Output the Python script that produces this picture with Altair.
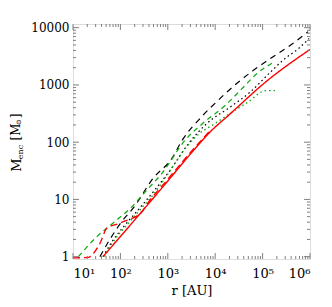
import altair as alt
import pandas as pd

# ---- data (r in AU, M_enc in solar masses) ----
red_solid_r = [43, 363, 1000, 3000, 7760, 20400, 112000, 1000000]
red_solid_m = [1.0, 7.8, 21, 62, 150, 309, 1100, 4170]

red_dash_r = [10, 21, 29, 37, 52, 85, 126, 282, 363, 1000, 3000, 7760]
red_dash_m = [0.95, 0.97, 1.23, 1.7, 3.16, 3.7, 4.2, 6.0, 8.2, 22.5, 66, 158]

green_dash_r = [13, 32, 85, 174, 331, 759, 2290, 5500, 16200, 37200, 75900, 166000]
green_dash_m = [1.0, 2.24, 4.4, 7.4, 13.5, 28.8, 107, 214, 437, 871, 1580, 2450]

black_dash_r = [37, 60, 107, 195, 490, 1230, 2000, 5250, 11500, 28800, 63100, 145000, 380000, 912000]
black_dash_m = [1.0, 2.0, 4.1, 7.4, 23.4, 52.5, 107, 282, 537, 1070, 1780, 2880, 4900, 8510]

black_dot_r = [43, 66, 126, 257, 537, 1120, 2690, 6760, 20400, 53700, 145000, 295000, 562000, 955000]
black_dot_m = [1.0, 1.8, 3.6, 7.1, 14.8, 32.4, 93, 214, 407, 741, 1660, 2880, 4270, 6460]

green_dot_r = [46, 69, 126, 302, 537, 955, 2570, 4790, 8910, 20400, 49000, 117000, 182000]
green_dot_m = [1.0, 1.78, 3.3, 7.6, 13.2, 26.3, 85, 145, 200, 316, 501, 794, 794]

series = [
    ("black_dash", black_dash_r, black_dash_m),
    ("black_dot", black_dot_r, black_dot_m),
    ("green_dash", green_dash_r, green_dash_m),
    ("green_dot", green_dot_r, green_dot_m),
    ("red_dash", red_dash_r, red_dash_m),
    ("red_solid", red_solid_r, red_solid_m),
]
names = [s[0] for s in series]
colors = ["#000000", "#000000", "#11aa11", "#11aa11", "#ff0000", "#ff0000"]
dashes = [[6, 5], [1.5, 3], [5, 4], [1.5, 3], [7, 4], [1, 0]]
widths = [1.2, 1.4, 1.4, 1.6, 1.4, 1.6]

rows = []
for name, rs, ms in series:
    for r, m in zip(rs, ms):
        rows.append({"series": name, "r": r, "m": m})
df = pd.DataFrame(rows)

x_major = [10, 100, 1000, 10000, 100000, 1000000]
x_minor = [k * 10 ** n for n in range(1, 6) for k in range(2, 10)]
y_major = [1, 10, 100, 1000, 10000]
y_minor = [k * 10 ** n for n in range(0, 4) for k in range(2, 10)]

W, H = 237, 235
XDOM = [10, 1000000]
YDOM = [0.91, 11600]
FONT = "DejaVu Serif"
FRAME = "#808080"

xs = alt.Scale(type="log", domain=XDOM, nice=False)
ys = alt.Scale(type="log", domain=YDOM, nice=False)

lines = alt.Chart(df).mark_line(clip=True, interpolate="monotone").encode(
    x=alt.X("r:Q", scale=xs,
            axis=alt.Axis(values=x_major, ticks=False, tickSize=0, domain=False, grid=False,
                          labelFont=FONT, labelFontSize=13, labelColor="black",
                          labelPadding=8,
                          labelExpr="datum.value < 50 ? '10¹' : datum.value < 500 ? '10²' : datum.value < 5000 ? '10³' : datum.value < 50000 ? '10⁴' : datum.value < 500000 ? '10⁵' : '10⁶'",
                          title="r [AU]", titleFont=FONT, titleFontSize=13,
                          titleFontWeight="normal", titleColor="black", titlePadding=4)),
    y=alt.Y("m:Q", scale=ys,
            axis=alt.Axis(values=y_major, format="d", ticks=False, tickSize=0, domain=False,
                          grid=False, labelFont=FONT, labelFontSize=12, labelColor="black",
                          labelPadding=4, title=None)),
    color=alt.Color("series:N", scale=alt.Scale(domain=names, range=colors), legend=None),
    strokeDash=alt.StrokeDash("series:N", scale=alt.Scale(domain=names, range=dashes), legend=None),
    strokeWidth=alt.StrokeWidth("series:N", scale=alt.Scale(domain=names, range=widths), legend=None),
    detail="series:N",
)

def xticks(vals, length):
    d = pd.DataFrame({"v": vals})
    bottom = alt.Chart(d).mark_rule(color=FRAME, strokeWidth=1).encode(
        x=alt.X("v:Q", scale=xs), y=alt.value(H), y2=alt.value(H - length))
    top = alt.Chart(d).mark_rule(color=FRAME, strokeWidth=1).encode(
        x=alt.X("v:Q", scale=xs), y=alt.value(0), y2=alt.value(length))
    return [bottom, top]

def yticks(vals, length):
    d = pd.DataFrame({"v": vals})
    left = alt.Chart(d).mark_rule(color=FRAME, strokeWidth=1).encode(
        y=alt.Y("v:Q", scale=ys), x=alt.value(0), x2=alt.value(length))
    right = alt.Chart(d).mark_rule(color=FRAME, strokeWidth=1).encode(
        y=alt.Y("v:Q", scale=ys), x=alt.value(W), x2=alt.value(W - length))
    return [left, right]

ticks = xticks(x_major, 6) + xticks(x_minor, 3) + yticks(y_major, 6) + yticks(y_minor, 3)

def label(txt, size, x, y):
    d = pd.DataFrame({"t": [txt]})
    return alt.Chart(d).mark_text(angle=270, font=FONT, fontSize=size, color="black",
                                  baseline="middle", align="center").encode(
        x=alt.value(x), y=alt.value(y), text="t:N")

ytitle = [
    label("M", 13, -56, 141),
    label("enc", 8, -52, 128),
    label("[M", 12, -57, 108),
    label("⊙", 7, -54, 98),
    label("]", 12, -57, 92),
]

chart = alt.layer(lines, *ticks, *ytitle).properties(
    width=W, height=H,
    autosize=alt.AutoSizeParams(type="none"),
    padding={"left": 65, "top": 16, "right": 10, "bottom": 40},
).configure_view(stroke=FRAME, strokeWidth=1).configure(background="white")

chart.save("out.html", embed_options={"renderer": "svg", "actions": False})
